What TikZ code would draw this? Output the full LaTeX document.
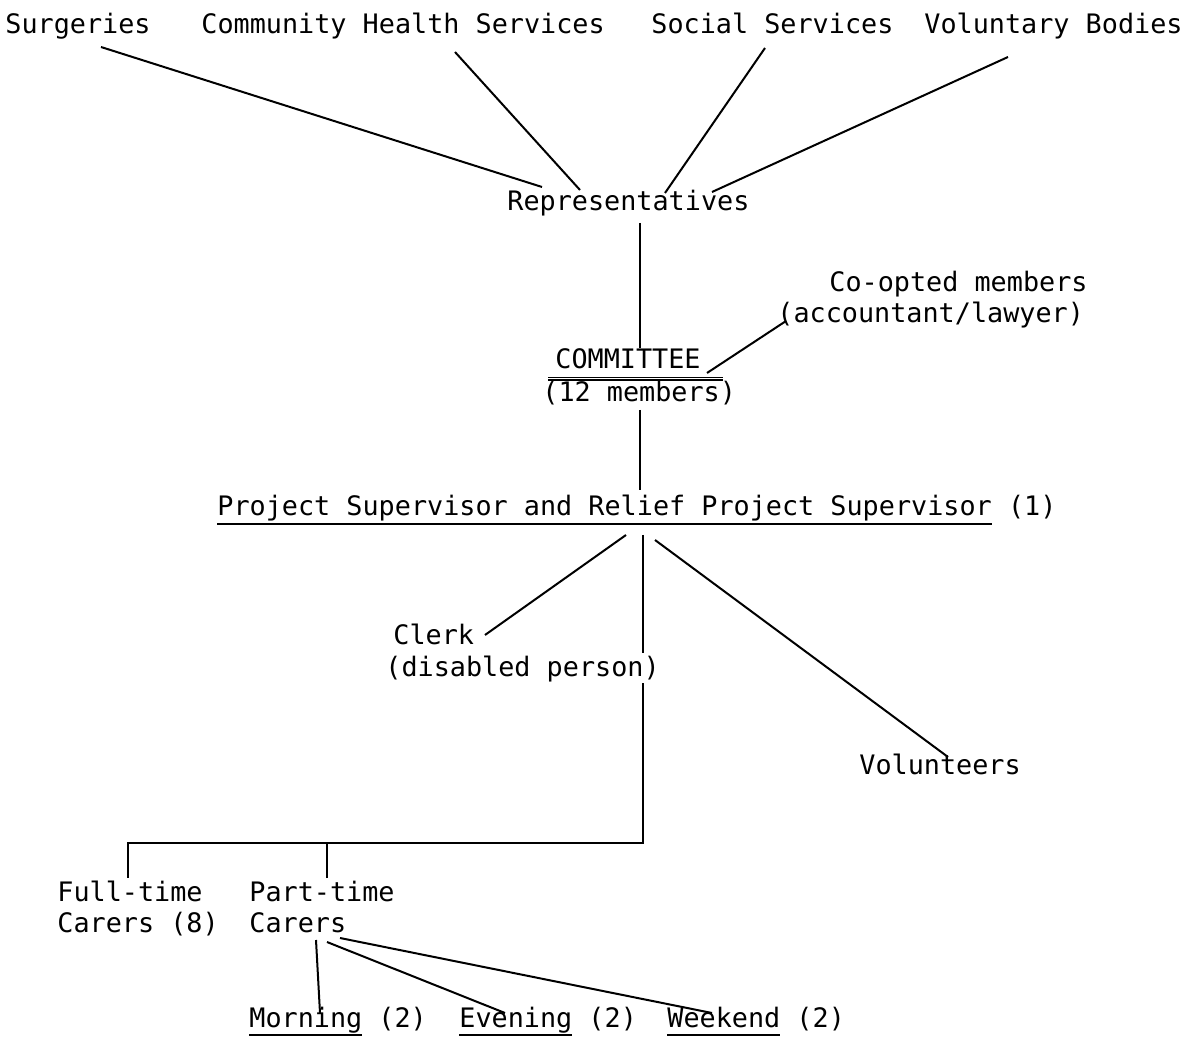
\documentclass[tikz,border=0pt]{standalone}
\usepackage{fontspec}
\newfontfamily\typer{DejaVu Sans Mono}
\newcommand{\ulbox}[1]{\vtop{\hbox{#1\vphantom{gj}}\kern0.6pt\hrule height 1pt}}

\begin{document}
\begin{tikzpicture}[x=0.5pt,y=-0.5pt,
  lbl/.style={anchor=base west,inner sep=0pt,font=\fontsize{13.4}{16}\typer},
  link/.style={line width=1pt}]
\useasboundingbox (0,0) rectangle (1184,1037);
% who sends representatives
\foreach \nm/\x/\txt in {surg/5/Surgeries,chs/201/Community Health Services,soc/651/Social Services,vol/924/Voluntary Bodies}
  {\node[lbl] (\nm) at (\x,34) {\txt};}
\node[lbl] (rep) at (507,211) {Representatives};
\foreach \nm/\a/\b in {surg/{96,13}/{35,-24},chs/{254,18}/{73,-21},soc/{114,14}/{158,-18},vol/{84,23}/{205,-19}}
  {\draw[link] ([shift={(\a)}]\nm.base west) -- ([shift={(\b)}]rep.base west);}
% committee
\node[lbl] (cttee) at (555,369) {COMMITTEE};
\node[lbl] (members) at (542,402) {(12 members)};
\draw[line width=0.6pt,double distance=0.5pt] ([shift={(6,-23)}]members.base west) -- ([shift={(181,-23)}]members.base west);
\node[lbl] (coopt) at (829,292) {Co-opted members};
\node[lbl] (coopt2) at (777,323) {(accountant/lawyer)};
\draw[link] ([shift={(133,12)}]rep.base west) -- ([shift={(85,-21)}]cttee.base west);
\draw[link] ([shift={(9,-2)}]coopt2.base west) -- ([shift={(152,4)}]cttee.base west);
% supervisor and staff
\node[lbl] (proj) at (217,516) {\ulbox{Project Supervisor and Relief Project Supervisor} (1)};
\draw[link] ([shift={(98,8)}]members.base west) -- ([shift={(423,-26)}]proj.base west);
\node[lbl] (clerk) at (393,645) {Clerk};
\node[lbl] (clerk2) at (385,676) {(disabled person)};
\node[lbl] (volun) at (859,774) {Volunteers};
\draw[link] ([shift={(409,19)}]proj.base west) -- ([shift={(92,-10)}]clerk.base west);
\draw[link] ([shift={(438,24)}]proj.base west) -- ([shift={(89,-17)}]volun.base west);
\draw[link] ([shift={(426,19)}]proj.base west) -- ([shift={(258,-23)}]clerk2.base west);
% carers
\node[lbl] (ft1) at (57,901) {Full-time};
\node[lbl] (ft2) at (57,932) {Carers (8)};
\node[lbl] (pt1) at (249,901) {Part-time};
\node[lbl] (pt2) at (249,932) {Carers};
\coordinate (bus) at (643,843);
\draw[link] ([shift={(258,7)}]clerk2.base west) -- (bus) -| ([shift={(71,-23)}]ft1.base west);
\draw[link] ([shift={(78,-23)}]pt1.base west) |- (bus);
\foreach \nm/\x/\txt in {morn/249/Morning,even/459/Evening,wknd/667/Weekend}
  {\node[lbl] (\nm) at (\x,1027) {\ulbox{\txt} (2)};}
\foreach \a/\nm/\b in {{67,8}/morn/{71,-14},{78,10}/even/{46,-14},{91,6}/wknd/{45,-14}}
  {\draw[link] ([shift={(\a)}]pt2.base west) -- ([shift={(\b)}]\nm.base west);}
\end{tikzpicture}
\end{document}
